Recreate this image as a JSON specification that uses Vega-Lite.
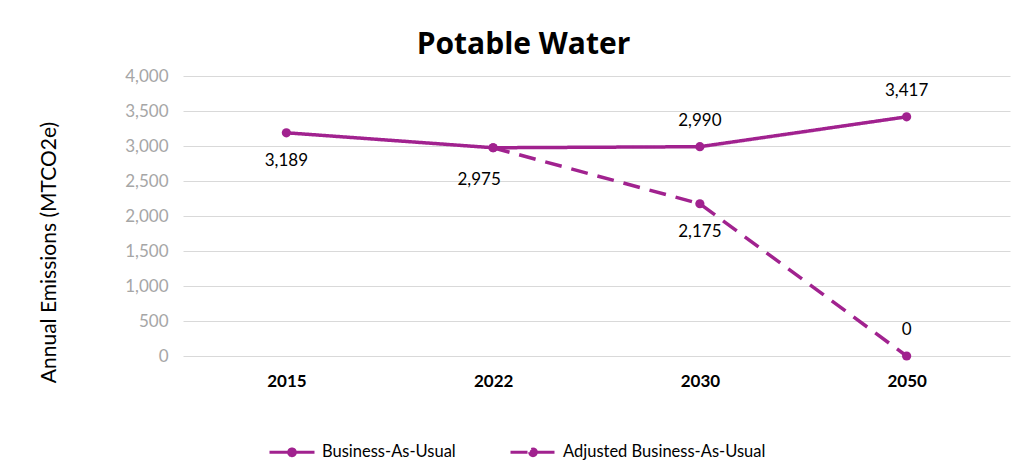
{
  "$schema": "https://vega.github.io/schema/vega-lite/v6.json",
  "width": 827,
  "height": 280,
  "autosize": {"type": "none"},
  "padding": {"left": 183, "top": 76, "right": 16, "bottom": 115},
  "background": "white",
  "config": {"view": {"stroke": null}, "font": "Lato"},
  "title": {"text": "Potable Water", "fontSize": 30, "fontWeight": "bold", "font": "Open Sans", "color": "#000000", "anchor": "middle", "dx": -73, "offset": 7},
  "data": {"values": [
    {"series": "Business-As-Usual", "year": "2015", "value": 3189},
    {"series": "Business-As-Usual", "year": "2022", "value": 2975},
    {"series": "Business-As-Usual", "year": "2030", "value": 2990},
    {"series": "Business-As-Usual", "year": "2050", "value": 3417},
    {"series": "Adjusted Business-As-Usual", "year": "2022", "value": 2975},
    {"series": "Adjusted Business-As-Usual", "year": "2030", "value": 2175},
    {"series": "Adjusted Business-As-Usual", "year": "2050", "value": 0}
  ]},
  "encoding": {
    "x": {"field": "year", "type": "ordinal", "scale": {"type": "point", "padding": 0.5},
      "axis": {"title": null, "labelAngle": 0, "labelFontSize": 17, "labelFontWeight": "bold", "labelColor": "#000000", "labelPadding": 17, "domain": false, "ticks": false, "grid": false}},
    "y": {"field": "value", "type": "quantitative", "scale": {"domain": [0, 4000]},
      "axis": {"title": "Annual Emissions (MTCO2e)", "titleFontSize": 21, "titleFontWeight": "normal", "titleColor": "#000000", "titleX": -124, "titleY": 176,
        "values": [0, 500, 1000, 1500, 2000, 2500, 3000, 3500, 4000], "format": ",.0f", "labelFontSize": 17, "labelColor": "#a6a6a6", "labelPadding": 15,
        "domain": false, "ticks": false, "grid": true, "gridColor": "#d9d9d9", "gridWidth": 1}}
  },
  "layer": [
    {
      "mark": {"type": "line", "color": "#A1228F", "strokeWidth": 3.5},
      "encoding": {
        "strokeDash": {"field": "series", "type": "nominal",
          "scale": {"domain": ["Business-As-Usual", "Adjusted Business-As-Usual"], "range": [[1, 0], [17, 10]]},
          "legend": {"title": null, "orient": "none", "legendX": 85, "legendY": 352, "direction": "horizontal", "columns": 2,
            "symbolType": "M-1,0L1,0M-0.15,0A0.15,0.15,0,1,0,0.15,0A0.15,0.15,0,1,0,-0.15,0Z",
            "symbolSize": 2025, "symbolStrokeWidth": 3, "symbolStrokeColor": "#A1228F", "symbolFillColor": "#A1228F",
            "labelFontSize": 16.5, "labelColor": "#000000", "labelOffset": 6, "labelLimit": 0, "columnPadding": 48}}
      }
    },
    {
      "mark": {"type": "point", "filled": true, "color": "#A1228F", "size": 85, "opacity": 1}
    },
    {
      "transform": [{"filter": "(datum.series == 'Business-As-Usual' && (datum.year == '2030' || datum.year == '2050')) || (datum.series == 'Adjusted Business-As-Usual' && datum.year == '2050')"}],
      "mark": {"type": "text", "fontSize": 17, "color": "#000000", "dy": -26},
      "encoding": {"text": {"field": "value", "type": "quantitative", "format": ","}}
    },
    {
      "transform": [{"filter": "(datum.series == 'Business-As-Usual' && datum.year == '2015') || (datum.series == 'Adjusted Business-As-Usual' && datum.year == '2030')"}],
      "mark": {"type": "text", "fontSize": 17, "color": "#000000", "dy": 28},
      "encoding": {"text": {"field": "value", "type": "quantitative", "format": ","}}
    },
    {
      "transform": [{"filter": "datum.series == 'Business-As-Usual' && datum.year == '2022'"}],
      "mark": {"type": "text", "fontSize": 17, "color": "#000000", "dy": 32, "dx": -14},
      "encoding": {"text": {"field": "value", "type": "quantitative", "format": ","}}
    }
  ]
}
